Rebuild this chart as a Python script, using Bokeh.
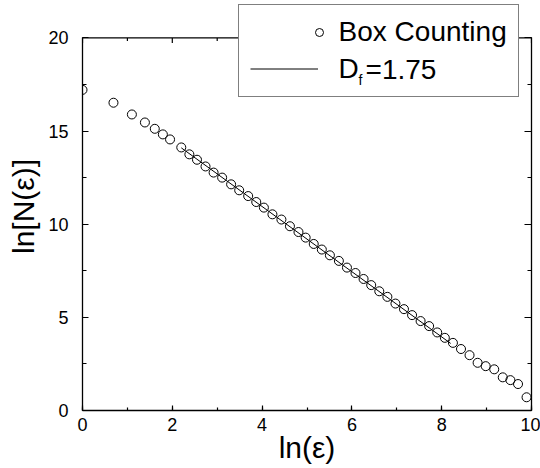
import math
from bokeh.plotting import figure
from bokeh.models import (ColumnDataSource, Legend, LegendItem, LinearAxis, Range1d,
                          SingleIntervalTicker, CustomJSTickFormatter, Span)
from bokeh.embed import file_html
from bokeh.resources import INLINE

# ---- data ----
ln_eps = [0.0, 0.69, 1.10, 1.39, 1.61, 1.79, 1.95,
          2.20, 2.38, 2.55, 2.74, 2.92, 3.11, 3.31, 3.49, 3.69, 3.87,
          4.04, 4.23, 4.43, 4.62, 4.81, 4.97, 5.15, 5.33, 5.51, 5.71,
          5.89, 6.08, 6.26, 6.43, 6.61, 6.79, 6.97, 7.16, 7.34, 7.53,
          7.72, 7.90, 8.07, 8.25, 8.43, 8.62, 8.80, 8.98, 9.17, 9.36,
          9.53, 9.70, 9.89]
ln_N = [17.21, 16.52, 15.89, 15.46, 15.12, 14.82, 14.55,
        14.12, 13.75, 13.46, 13.10, 12.77, 12.50, 12.14, 11.82, 11.51, 11.19,
        10.89, 10.53, 10.25, 9.89, 9.58, 9.28, 8.94, 8.64, 8.33, 8.03,
        7.67, 7.38, 7.06, 6.73, 6.40, 6.10, 5.74, 5.44, 5.12, 4.80,
        4.53, 4.19, 3.90, 3.63, 3.30, 2.97, 2.56, 2.38, 2.21, 1.78,
        1.63, 1.42, 0.71]
fit_x = [2.20, 8.20]
fit_y = [14.10, 3.60]

x_major_ticks = [0, 2, 4, 6, 8, 10]
x_minor_ticks = [1, 3, 5, 7, 9]
y_max = 20

series_label = "Box Counting"
fit_label_main = "D"
fit_label_sub = "f"
fit_label_rest = "=1.75"
x_title = "ln(\u03b5)"
y_title = "ln[N(\u03b5)]"

FONT = "Liberation Sans"

# frame extends above y=20 so the legend (which overlaps the top border) is not clipped
p = figure(width=540, height=468, output_backend="svg", toolbar_location=None,
           x_range=Range1d(0, 10), y_range=Range1d(0, 21.9),
           min_border_left=82, min_border_right=9, min_border_top=2, min_border_bottom=58,
           x_axis_label=x_title, y_axis_label=y_title)
p.grid.visible = False
p.outline_line_color = None
p.background_fill_color = "white"
p.border_fill_color = "white"

src = ColumnDataSource(dict(x=ln_eps, y=ln_N))
fit = ColumnDataSource(dict(x=fit_x, y=fit_y))
ln_r = p.line("x", "y", source=fit, line_color="black", line_width=1)
sc_r = p.scatter("x", "y", source=src, marker="circle", size=9,
                 fill_color=None, line_color="black", line_width=1)
# invisible stand-in used for legend rows whose glyph is drawn elsewhere
ghost = p.line(x=[], y=[], line_alpha=0)

xt = SingleIntervalTicker(interval=2, num_minor_ticks=2)
yt = SingleIntervalTicker(interval=5, num_minor_ticks=2)
blank = CustomJSTickFormatter(code="return '';")

def style(ax, labels=True, maj=6, mnr=4):
    ax.axis_line_color = "black"
    ax.axis_line_width = 1.3
    ax.major_tick_in = maj
    ax.major_tick_out = 0
    ax.minor_tick_in = mnr
    ax.minor_tick_out = 0
    ax.major_tick_line_color = "black"
    ax.minor_tick_line_color = "black"
    ax.major_tick_line_width = 1.2
    ax.minor_tick_line_width = 1.2
    if labels:
        ax.major_label_text_font = FONT
        ax.major_label_text_font_size = "18px"
        ax.major_label_text_color = "black"
        ax.axis_label_text_font = FONT
        ax.axis_label_text_font_size = "30px"
        ax.axis_label_text_font_style = "normal"
        ax.axis_label_text_color = "black"
    else:
        ax.formatter = blank
        ax.major_label_standoff = 0

xa = p.xaxis[0]
xa.ticker = xt
style(xa, maj=5, mnr=3)
xa.major_label_standoff = 7
xa.axis_label_standoff = -3

ya = p.yaxis[0]
ya.ticker = yt
ya.bounds = (0, y_max)
style(ya, maj=6, mnr=4)
ya.major_label_standoff = 14
ya.axis_label_standoff = 5

right = LinearAxis(ticker=yt, bounds=(0, y_max))
style(right, labels=False, maj=7, mnr=4)
p.add_layout(right, "right")

# top border of the box at y = 20, with inward ticks
p.add_layout(Span(location=y_max, dimension="width", line_color="black", line_width=1.3))
p.ray(x=x_major_ticks, y=[y_max] * len(x_major_ticks), length=5, angle=-math.pi / 2,
      length_units="screen", line_color="black", line_width=1.2)
p.ray(x=x_minor_ticks, y=[y_max] * len(x_minor_ticks), length=3, angle=-math.pi / 2,
      length_units="screen", line_color="black", line_width=1.2)

def text_legend(label, loc, size, renderer, glyph_w=0, h=31):
    return Legend(items=[LegendItem(label=label, renderers=[renderer])],
                  location=loc, margin=0, padding=0, spacing=0,
                  glyph_width=glyph_w, glyph_height=h, label_height=h, label_standoff=0,
                  label_text_font=FONT, label_text_font_size=size,
                  label_text_color="black",
                  border_line_color=None, background_fill_alpha=0.0)

# main legend box (row-1 marker and the rest of the D_f label are drawn by small legends)
legend = Legend(items=[LegendItem(label=series_label, renderers=[ghost]),
                       LegendItem(label=fit_label_main, renderers=[ln_r])],
                location=(155.6, 313.3), margin=0, padding=11, spacing=5,
                glyph_width=68, glyph_height=31, label_height=31, label_standoff=21,
                label_text_font=FONT, label_text_font_size="28px",
                label_text_color="black",
                border_line_color="black", border_line_width=1.5,
                background_fill_color="white", background_fill_alpha=1.0)
p.add_layout(legend, "center")

# circle marker of the first legend row
p.add_layout(text_legend("", (227.3, 367.7), "10px", sc_r, glyph_w=20, h=20), "center")
# subscript "f" of D_f
p.add_layout(text_legend(fit_label_sub, (276.5, 322.5), "14px", ghost, h=14), "center")
# "=1.75"
p.add_layout(text_legend(fit_label_rest, (283.6, 324.5), "28px", ghost, h=31), "center")

open("out.html", "w").write(file_html(p, INLINE))
